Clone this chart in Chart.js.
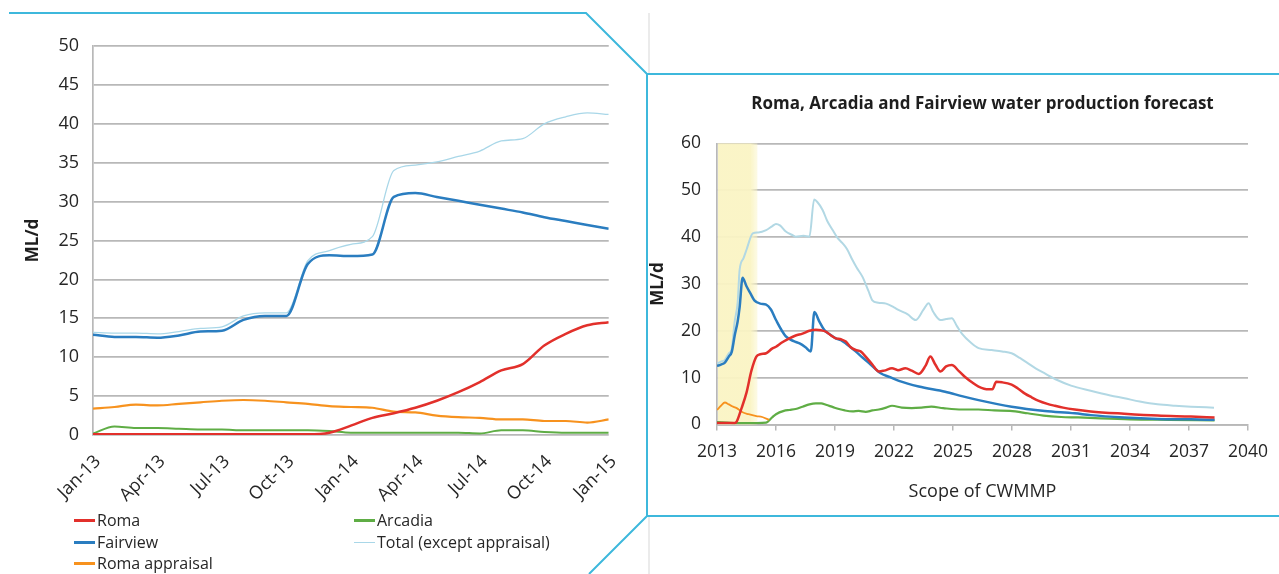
<!DOCTYPE html>
<html>
<head>
<meta charset="utf-8">
<script src="https://cdn.jsdelivr.net/npm/chart.js@4.4.1/dist/chart.umd.min.js"></script>
<style>
  html, body { margin: 0; padding: 0; background: #ffffff; }
  body { width: 1279px; height: 574px; position: relative; overflow: hidden; font-family: "Open Sans", Lato, sans-serif; }
  .wrap { position: absolute; }
  #histWrap { left: 0; top: 0; width: 640px; height: 512px; }
  #fcWrap { left: 648px; top: 76px; width: 631px; height: 438px; }
  #frame { position: absolute; left: 0; top: 0; width: 1279px; height: 574px; pointer-events: none; }
  #histLegend { position: absolute; left: 0; top: 0; width: 640px; height: 574px; pointer-events: none; }
  .lg { position: absolute; display: flex; align-items: center; font-size: 16px; color: #262626; white-space: nowrap; }
  .lg i { display: inline-block; width: 21px; height: 0; border-top: 3px solid; margin-right: 2px; }
</style>
</head>
<body>
<div class="wrap" id="histWrap"><canvas id="hist"></canvas></div>
<div class="wrap" id="fcWrap"><canvas id="fc"></canvas></div>
<div id="histLegend"></div>
<svg id="frame" width="1279" height="574">
  <line x1="649" y1="13" x2="649" y2="74" stroke="#e4e4e4" stroke-width="1.5"/>
  <line x1="649" y1="516" x2="649" y2="574" stroke="#e4e4e4" stroke-width="1.5"/>
  <polyline points="9,13 586,13 647,74 1279,74" fill="none" stroke="#3db8dc" stroke-width="2"/>
  <line x1="647" y1="74" x2="647" y2="516" stroke="#3db8dc" stroke-width="2"/>
  <polyline points="1279,516 647,516 589,574" fill="none" stroke="#3db8dc" stroke-width="2"/>
</svg>
<script>
// ---- Monthly history, Jan-13 to Jan-15 (ML/d) ----
const histMonths = ['Jan-13','Feb-13','Mar-13','Apr-13','May-13','Jun-13','Jul-13','Aug-13','Sep-13','Oct-13','Nov-13','Dec-13',
                    'Jan-14','Feb-14','Mar-14','Apr-14','May-14','Jun-14','Jul-14','Aug-14','Sep-14','Oct-14','Nov-14','Dec-14','Jan-15'];
const histTickLabels = ['Jan-13','Apr-13','Jul-13','Oct-13','Jan-14','Apr-14','Jul-14','Oct-14','Jan-15'];
const histRoma      = [0.1,0.1,0.1,0.1,0.1,0.1,0.1,0.1,0.1,0.1,0.1,0.3, 1.2,2.2,2.8,3.5,4.4,5.5,6.8,8.3,9.1,11.5,13.0,14.1,14.5];
const histArcadia   = [0.2,1.1,0.9,0.9,0.8,0.7,0.7,0.6,0.6,0.6,0.6,0.5, 0.3,0.3,0.3,0.3,0.3,0.3,0.2,0.6,0.6,0.4,0.3,0.3,0.3];
const histFairview  = [12.9,12.6,12.6,12.5,12.8,13.3,13.4,14.8,15.3,15.3,22.0,23.1, 23.0,23.2,30.6,31.1,30.6,30.1,29.6,29.1,28.6,28.0,27.5,27.0,26.5];
const histTotal     = [13.2,13.1,13.1,13.0,13.3,13.7,13.9,15.3,15.7,15.7,22.4,23.7, 24.5,25.5,34.0,34.7,35.1,35.8,36.5,37.8,38.1,40.0,40.9,41.4,41.2];
const histAppraisal = [3.4,3.6,3.9,3.8,4.0,4.2,4.4,4.5,4.4,4.2,4.0,3.7, 3.6,3.5,3.0,2.9,2.5,2.3,2.2,2.0,2.0,1.8,1.8,1.6,2.0];
const histYTicks = [0, 50, 5];

// ---- Forecast, 2013 to 2038 (ML/d) ----
const fcTitle = 'Roma, Arcadia and Fairview water production forecast';
const fcScope = [2013, 2015];
const fcXTicks = [2013, 2040, 3];
const fcYTicks = [0, 60, 10];

const fcTotalYears = [2013.0,2013.2,2013.4,2013.6,2013.75,2013.9,2014.05,2014.15,2014.35,2014.5,2014.82,2015.1,2015.5,2015.8,2016.0,2016.2,2016.5,2016.8,2017.0,2017.4,2017.7,
  2017.94,2018.1,2018.37,2018.6,2018.88,2019.1,2019.38,2019.6,2019.89,2020.1,2020.4,2020.7,2020.9,2021.2,2021.6,2022.0,2022.25,2022.7,2023.1,2023.5,2023.76,2024.0,
  2024.36,2024.65,2024.94,2025.2,2025.45,2025.9,2026.3,2026.97,2027.5,2027.98,2028.4,2028.8,2029.2,2029.67,2030.3,2031.0,2032.0,2033.0,2033.72,2034.5,2035.4,2036.3,2037.1,2038.27];
const fcTotal = [13.0,13.4,13.8,15.2,16.2,22.0,26.0,33.0,35.5,37.3,40.8,41.0,41.5,42.3,42.8,42.5,41.2,40.5,40.1,40.3,40.1,
  48.0,47.5,45.8,43.5,41.5,40.0,38.7,37.5,35.1,33.5,31.5,28.5,26.5,26.0,25.8,25.0,24.4,23.5,22.3,24.5,25.9,24.0,
  22.3,22.5,22.7,21.0,19.4,17.5,16.3,15.9,15.6,15.2,14.2,13.1,12.0,10.9,9.5,8.3,7.2,6.2,5.6,4.9,4.3,4.0,3.8,3.6];

const fcFairviewYears = [2013.0,2013.2,2013.4,2013.6,2013.75,2013.9,2014.05,2014.15,2014.3,2014.5,2014.7,2014.9,2015.2,2015.5,2015.75,2016.0,2016.5,2016.9,2017.2,2017.5,2017.77,
  2017.95,2018.2,2018.45,2018.75,2019.04,2019.3,2019.55,2020.05,2020.4,2020.73,2021.3,2021.8,2022.25,2023.26,2024.6,2025.5,2026.3,2027.98,2029.67,2031.19,2032.0,2033.7,2035.4,2037.1,2038.3];
const fcFairview = [12.5,12.8,13.2,14.5,15.5,19.0,22.0,25.0,31.3,29.5,28.0,26.5,25.8,25.6,24.5,22.3,18.8,17.8,17.3,16.5,15.6,
  24.0,22.0,20.2,19.2,18.4,18.0,17.3,15.6,14.3,13.1,11.0,10.1,9.3,8.1,7.0,6.0,5.2,3.8,2.9,2.4,2.0,1.5,1.2,1.1,1.0];

const fcRomaYears = [2013.0,2013.9,2014.0,2014.25,2014.5,2014.75,2015.0,2015.2,2015.5,2015.8,2016.0,2016.3,2016.68,2017.0,2017.35,2017.7,2018.03,2018.3,2018.54,2018.8,2019.04,
  2019.3,2019.55,2019.8,2020.05,2020.3,2020.56,2020.9,2021.23,2021.5,2021.9,2022.2,2022.58,2022.9,2023.26,2023.6,2023.85,2024.1,2024.36,2024.65,2024.94,2025.3,2025.6,
  2026.0,2026.3,2026.8,2027.0,2027.2,2027.5,2027.98,2028.3,2028.66,2029.0,2029.33,2029.8,2030.18,2030.6,2031.19,2032.0,2033.7,2035.4,2037.1,2038.3];
const fcRoma = [0.3,0.3,0.6,3.5,6.8,11.5,14.5,15.0,15.2,16.2,16.6,17.5,18.4,19.0,19.4,20.0,20.2,20.1,19.8,19.0,18.4,
  18.2,17.7,16.5,15.9,15.6,14.5,12.8,11.3,11.5,12.0,11.6,12.0,11.5,10.8,12.5,14.5,12.8,11.3,12.4,12.7,11.4,10.2,
  8.9,8.1,7.5,7.5,9.1,9.0,8.5,7.7,6.6,5.8,5.1,4.4,4.0,3.6,3.2,2.8,2.3,1.9,1.7,1.5];

const fcArcadiaYears = [2013.0,2013.5,2014.0,2014.5,2015.0,2015.5,2015.8,2016.0,2016.4,2016.68,2017.0,2017.35,2017.7,2018.03,2018.3,2018.54,2018.9,2019.2,2019.5,2019.89,2020.2,
  2020.56,2020.9,2021.23,2021.6,2021.9,2022.4,2022.9,2023.4,2023.9,2024.5,2025.45,2026.3,2027.1,2027.9,2028.8,2029.6,2030.5,2031.36,2032.5,2034.0,2036.0,2038.3];
const fcArcadia = [0.5,0.4,0.3,0.3,0.3,0.4,1.5,2.2,2.9,3.1,3.3,3.8,4.3,4.5,4.5,4.2,3.7,3.3,3.0,2.8,2.9,
  2.7,3.0,3.2,3.6,4.0,3.6,3.5,3.6,3.8,3.5,3.2,3.2,3.0,2.9,2.4,1.9,1.6,1.5,1.3,1.1,1.0,0.9];

const fcAppraisalYears = [2013.0,2013.2,2013.4,2013.6,2013.77,2014.0,2014.3,2014.6,2015.0,2015.3,2015.65];
const fcAppraisal = [3.1,4.0,4.7,4.3,3.9,3.5,2.6,2.2,1.8,1.6,1.0];

// ---- Series colours ----
const cRoma = '#e2302b';
const cArcadia = '#5fad45';
const cFairview = '#2a7dc0';
const cTotal = '#a9d7e8';
const cTotalFc = '#b2d8e4';
const cAppraisal = '#f7921e';

const FONT = '"Open Sans", Lato, sans-serif';
Chart.defaults.font.family = FONT;
Chart.defaults.color = '#262626';

const GRID = '#b8b8b8';
const TEXT = '#262626';

function monthly(values) { return values.map((v, i) => ({ x: i, y: v })); }
function paired(years, values) { return years.map((yr, i) => ({ x: yr, y: values[i] })); }

// ---- Left: monthly history ----
const histDatasets = [
  { label: 'Roma', data: monthly(histRoma), borderColor: cRoma, borderWidth: 2.5 },
  { label: 'Arcadia', data: monthly(histArcadia), borderColor: cArcadia, borderWidth: 2 },
  { label: 'Fairview', data: monthly(histFairview), borderColor: cFairview, borderWidth: 2.5 },
  { label: 'Total (except appraisal)', data: monthly(histTotal), borderColor: cTotal, borderWidth: 1.3 },
  { label: 'Roma appraisal', data: monthly(histAppraisal), borderColor: cAppraisal, borderWidth: 2.2 }
];

const hist = new Chart(document.getElementById('hist'), {
  type: 'line',
  data: { datasets: histDatasets },
  options: {
    responsive: true, maintainAspectRatio: false, animation: false,
    layout: { padding: { left: 22, top: 46, right: 28, bottom: 7 } },
    elements: { point: { radius: 0 }, line: { tension: 0.3, cubicInterpolationMode: 'monotone' } },
    plugins: { legend: { display: false }, tooltip: { enabled: false } },
    scales: {
      x: {
        type: 'linear', min: 0, max: histMonths.length - 1,
        afterFit: s => { s.height = 70; },
        grid: { display: false, drawTicks: false },
        border: { display: false },
        ticks: {
          stepSize: 3, autoSkip: false, minRotation: 45, maxRotation: 45, padding: 16, labelOffset: 5,
          font: { size: 18 }, color: TEXT,
          callback: v => histMonths[v]
        }
      },
      y: {
        min: histYTicks[0], max: histYTicks[1],
        afterFit: s => { s.width = 71; },
        grid: { color: GRID, lineWidth: 1.7, drawTicks: false },
        border: { display: true, color: GRID, width: 1.7 },
        ticks: { stepSize: histYTicks[2], padding: 14, font: { size: 18 }, color: TEXT },
        title: { display: true, text: 'ML/d', font: { size: 17, weight: 'bold' }, color: '#1e1e1e', padding: { top: 1, bottom: 0 } }
      }
    }
  }
});

// Two-column legend for the history chart, built from its datasets
(function buildLegend() {
  const box = document.getElementById('histLegend');
  const cols = [74, 354];
  const rows = [520, 542, 563];
  hist.data.datasets.forEach((ds, k) => {
    const el = document.createElement('div');
    el.className = 'lg';
    el.style.left = cols[k % 2] + 'px';
    el.style.top = (rows[Math.floor(k / 2)] - 11) + 'px';
    const mark = document.createElement('i');
    mark.style.borderTopColor = ds.borderColor;
    mark.style.borderTopWidth = (ds.borderWidth < 2 ? 1.5 : 3) + 'px';
    el.appendChild(mark);
    el.appendChild(document.createTextNode(ds.label));
    box.appendChild(el);
  });
})();

// Shaded band marking the management-plan scope on the forecast's time axis
const scopeBand = {
  id: 'scopeBand',
  beforeDatasetsDraw(chart) {
    const { ctx, chartArea, scales } = chart;
    const x1 = scales.x.getPixelForValue(fcScope[0]);
    const x2 = scales.x.getPixelForValue(fcScope[1]);
    const g = ctx.createLinearGradient(x1, 0, x2, 0);
    g.addColorStop(0, 'rgba(250,244,196,0.95)');
    g.addColorStop(0.85, 'rgba(250,244,196,0.95)');
    g.addColorStop(1, 'rgba(250,244,196,0.5)');
    ctx.save();
    ctx.fillStyle = g;
    ctx.fillRect(x1 + 1, chartArea.top, x2 - x1, chartArea.bottom - chartArea.top);
    ctx.restore();
  }
};

// ---- Right: long-range forecast ----
new Chart(document.getElementById('fc'), {
  type: 'line',
  data: {
    datasets: [
      { label: 'Roma', data: paired(fcRomaYears, fcRoma), borderColor: cRoma, borderWidth: 2.5 },
      { label: 'Roma appraisal', data: paired(fcAppraisalYears, fcAppraisal), borderColor: cAppraisal, borderWidth: 1.8 },
      { label: 'Fairview', data: paired(fcFairviewYears, fcFairview), borderColor: cFairview, borderWidth: 2.5 },
      { label: 'Arcadia', data: paired(fcArcadiaYears, fcArcadia), borderColor: cArcadia, borderWidth: 2.2 },
      { label: 'Total (except appraisal)', data: paired(fcTotalYears, fcTotal), borderColor: cTotalFc, borderWidth: 2 }
    ]
  },
  options: {
    responsive: true, maintainAspectRatio: false, animation: false,
    layout: { padding: { left: 0, top: 0, right: 28, bottom: 0 } },
    elements: { point: { radius: 0 }, line: { tension: 0.2, cubicInterpolationMode: 'monotone' } },
    plugins: {
      legend: { display: false }, tooltip: { enabled: false },
      title: { display: true, fullSize: false, text: fcTitle, font: { size: 17, weight: 'bold' }, color: '#1e1e1e', padding: { top: 18, bottom: 29 } }
    },
    scales: {
      x: {
        type: 'linear', min: fcXTicks[0], max: fcXTicks[1],
        afterFit: s => { s.height = 89.5; },
        grid: { display: true, drawOnChartArea: false, drawTicks: true, tickLength: 6, color: GRID, lineWidth: 1.5 },
        border: { display: true, color: GRID, width: 1.7 },
        ticks: { stepSize: fcXTicks[2], padding: 11, font: { size: 17.5 }, color: TEXT, callback: v => String(v) },
        title: { display: true, text: 'Scope of CWMMP', font: { size: 18 }, color: TEXT, padding: { top: 0, bottom: 11 } }
      },
      y: {
        min: fcYTicks[0], max: fcYTicks[1],
        afterFit: s => { s.width = 69; },
        grid: { color: GRID, lineWidth: 1.7, drawTicks: false },
        border: { display: true, color: GRID, width: 1.7 },
        ticks: { stepSize: fcYTicks[2], padding: 16, font: { size: 17.5 }, color: TEXT },
        title: { display: true, text: 'ML/d', font: { size: 17, weight: 'bold' }, color: '#1e1e1e', padding: { top: 0, bottom: 0 } }
      }
    }
  },
  plugins: [scopeBand]
});
</script>
</body>
</html>
